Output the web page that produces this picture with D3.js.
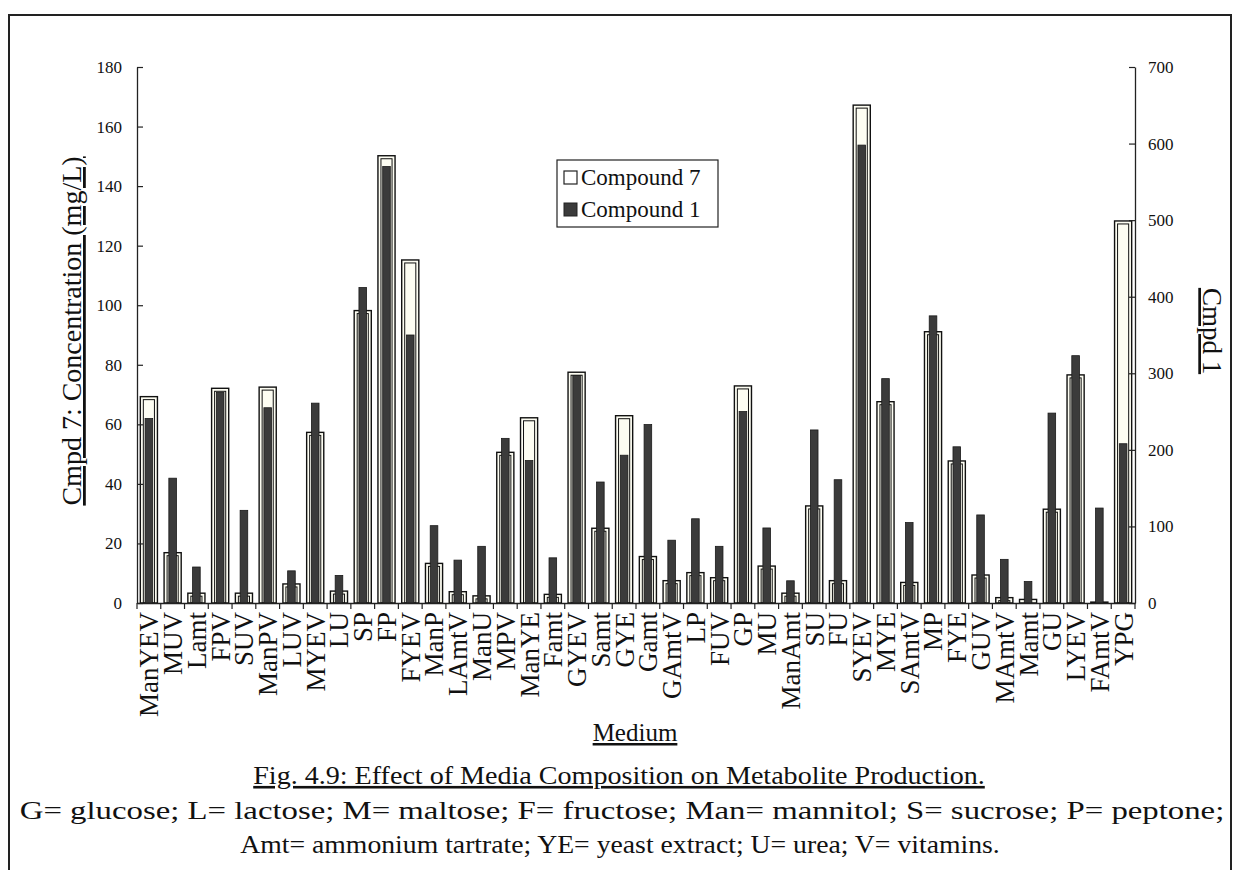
<!DOCTYPE html>
<html>
<head>
<meta charset="utf-8">
<script src="https://cdn.jsdelivr.net/npm/d3@7"></script>
<style>
  body { margin: 0; background: #fff; }
</style>
</head>
<body>
<div id="chart"></div>
<script>
// media names along the x axis
const media = ["ManYEV","MUV","Lamt","FPV","SUV","ManPV","LUV","MYEV","LU","SP","FP","FYEV","ManP","LAmtV",
  "ManU","MPV","ManYE","Famt","GYEV","Samt","GYE","Gamt","GAmtV","LP","FUV","GP","MU","ManAmt","SU","FU",
  "SYEV","MYE","SAmtV","MP","FYE","GUV","MAmtV","Mamt","GU","LYEV","FAmtV","YPG"];

// Compound 7 (mg/L, left axis)
const cmpd7 = [69.3,16.9,3.3,72.1,3.3,72.5,6.4,57.3,4.0,98.2,150.2,115.2,13.3,3.8,2.4,50.6,62.2,2.9,77.5,25.1,
  62.9,15.6,7.5,10.2,8.5,72.9,12.4,3.3,32.6,7.5,167.2,67.6,6.9,91.1,47.7,9.4,1.8,1.2,31.5,76.6,0.3,128.3];

// Compound 1 (right axis)
const cmpd1 = [241,163,47,275,121,255,42,261,36,412,570,350,101,56,74,215,186,59,297,158,
  193,233,82,110,74,250,98,29,226,161,598,293,105,375,204,115,57,28,248,323,124,208];

const leftTicks = d3.range(0, 181, 20);
const rightTicks = d3.range(0, 701, 100);
const captionLines = [
  "G= glucose; L= lactose; M= maltose; F= fructose; Man= mannitol; S= sucrose; P= peptone;",
  "Amt= ammonium tartrate; YE= yeast extract; U= urea; V= vitamins."
];

var width = 1237, height = 870;
var margin = { top: 67, right: 102, bottom: 267, left: 137 };
var plotBottom = height - margin.bottom; // 603
var serif = "Liberation Serif";

var svg = d3.select("#chart").append("svg").attr("width", width).attr("height", height);

// outer frame of the figure
svg.append("rect").attr("x", 9).attr("y", 15).attr("width", 1222).attr("height", 900)
  .attr("fill", "none").attr("stroke", "#222").attr("stroke-width", 2);

var x = d3.scaleBand().domain(media).range([margin.left, width - margin.right]);
var y7 = d3.scaleLinear().domain([0, 180]).range([plotBottom, margin.top]);
var y1 = d3.scaleLinear().domain([0, 700]).range([plotBottom, margin.top]);

var bw = x.bandwidth();
var w7 = bw * 0.72, w1 = bw * 0.32;

// Compound 7 bars (double outlined, pale fill)
var g7 = svg.append("g");
media.forEach(function (m, i) {
  var bx = x(m) + (bw - w7) / 2;
  var top = y7(cmpd7[i]);
  var h = plotBottom - top;
  g7.append("rect").attr("x", bx).attr("y", top).attr("width", w7).attr("height", h)
    .attr("fill", "#fdfdf2").attr("stroke", "#111").attr("stroke-width", 1.4);
  if (h > 5) {
    g7.append("rect").attr("x", bx + 3).attr("y", top + 3).attr("width", w7 - 6).attr("height", h - 3)
      .attr("fill", "none").attr("stroke", "#111").attr("stroke-width", 1);
  }
});

// Compound 1 bars (dark)
svg.append("g").selectAll("rect").data(cmpd1).join("rect")
  .attr("x", (d, i) => x(media[i]) + (bw - w1) / 2)
  .attr("y", d => y1(d))
  .attr("width", w1)
  .attr("height", d => plotBottom - y1(d))
  .attr("fill", "#3b3b3b").attr("stroke", "#1a1a1a").attr("stroke-width", 0.8);

// left axis
var la = svg.append("g").attr("transform", "translate(" + margin.left + ",0)")
  .call(d3.axisLeft(y7).tickValues(leftTicks).tickSizeInner(-6).tickSizeOuter(0).tickPadding(15));
la.attr("font-family", null).attr("font-size", null);
la.selectAll("text").style("font-size", "17px");

// right axis
var ra = svg.append("g").attr("transform", "translate(" + (width - margin.right) + ",0)")
  .call(d3.axisRight(y1).tickValues(rightTicks).tickSizeInner(-6).tickSizeOuter(0).tickPadding(13));
ra.attr("font-family", null).attr("font-size", null);
ra.selectAll("text").style("font-size", "17px");

// x axis: labels, then ticks between categories
var xa = svg.append("g").attr("transform", "translate(0," + plotBottom + ")")
  .call(d3.axisBottom(x).tickSize(0).tickSizeOuter(0));
xa.attr("font-family", null).attr("font-size", null);
xa.selectAll("text")
  .attr("transform", "rotate(-90)")
  .attr("x", -9).attr("y", 0).attr("dy", "0.35em")
  .style("text-anchor", "end").style("font-size", "27px");
xa.selectAll(".tick-sep").data(media.map(m => x(m)).concat([x.range()[1]])).join("line")
  .attr("x1", d => d).attr("x2", d => d).attr("y1", 0).attr("y2", 6)
  .attr("stroke", "#222").attr("stroke-width", 1.2);

svg.selectAll(".domain").attr("stroke", "#222").attr("stroke-width", 1.3);
svg.selectAll(".tick line").attr("stroke", "#222").attr("stroke-width", 1.2);

// axis titles
svg.append("text").attr("transform", "translate(81,331) rotate(-90)")
  .attr("text-anchor", "middle").style("font-size", "28px").style("text-decoration", "underline")
  .text("Cmpd 7: Concentration (mg/L)");
svg.append("text").attr("transform", "translate(1203,331) rotate(90)")
  .attr("text-anchor", "middle").style("font-size", "27px").style("text-decoration", "underline")
  .text("Cmpd 1");
svg.append("text").attr("x", 635).attr("y", 741)
  .attr("text-anchor", "middle").style("font-size", "25px").style("text-decoration", "underline")
  .text("Medium");

// legend
var lg = svg.append("g").attr("transform", "translate(557,160)");
lg.append("rect").attr("width", 161).attr("height", 67).attr("fill", "#fff").attr("stroke", "#222").attr("stroke-width", 1.2);
lg.append("rect").attr("x", 7).attr("y", 11).attr("width", 13).attr("height", 13).attr("fill", "#fff").attr("stroke", "#222").attr("stroke-width", 1.2);
lg.append("rect").attr("x", 7).attr("y", 43).attr("width", 13).attr("height", 13).attr("fill", "#3b3b3b").attr("stroke", "#222").attr("stroke-width", 1);
lg.append("text").attr("x", 24).attr("y", 25).style("font-size", "23px").text("Compound 7");
lg.append("text").attr("x", 24).attr("y", 57).style("font-size", "23px").text("Compound 1");

// one serif face for every label
svg.selectAll("text").style("font-family", serif).style("fill", "#111");

// caption: stretched horizontally with a transform to the widths of the scan
function caption(txt, cx, cy, target, underline) {
  var t = svg.append("text").attr("text-anchor", "middle")
    .style("font-family", serif).style("font-size", "26px").style("fill", "#111")
    .style("text-decoration", underline ? "underline" : "none")
    .text(txt);
  var natural = t.node().getComputedTextLength();
  t.attr("transform", "translate(" + cx + "," + cy + ") scale(" + (target / natural) + ",1)");
}
caption("Fig. 4.9: Effect of Media Composition on Metabolite Production.", 619, 784, 732, true);
caption(captionLines[0], 622, 819, 1205, false);
caption(captionLines[1], 620, 853, 760, false);
</script>
</body>
</html>
